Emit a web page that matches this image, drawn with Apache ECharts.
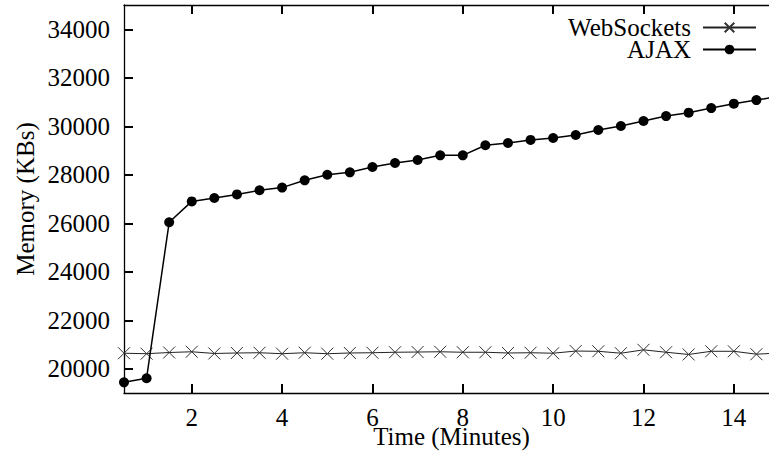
<!DOCTYPE html>
<html>
<head>
<meta charset="utf-8">
<script src="https://cdn.jsdelivr.net/npm/echarts@6/dist/echarts.min.js"></script>
<style>
html,body{margin:0;padding:0;background:#fff;}
#chart{width:769px;height:463px;}
</style>
</head>
<body>
<div id="chart"></div>
<script>
const times = [0.5, 1, 1.5, 2, 2.5, 3, 3.5, 4, 4.5, 5, 5.5, 6, 6.5, 7, 7.5, 8, 8.5, 9, 9.5, 10, 10.5, 11, 11.5, 12, 12.5, 13, 13.5, 14, 14.5, 15];
const webSockets = [20640, 20620, 20670, 20700, 20630, 20650, 20660, 20620, 20660, 20620, 20650, 20660, 20680, 20690, 20700, 20680, 20680, 20650, 20660, 20640, 20730, 20720, 20640, 20780, 20680, 20590, 20720, 20720, 20600, 20650];
const ajax = [19440, 19610, 26040, 26900, 27040, 27190, 27360, 27470, 27770, 28000, 28100, 28320, 28485, 28610, 28800, 28800, 29215, 29310, 29435, 29515, 29640, 29845, 30010, 30215, 30420, 30560, 30750, 30930, 31080, 31230];
const xTicks = [2, 4, 6, 8, 10, 12, 14];
const yTicks = [20000, 22000, 24000, 26000, 28000, 30000, 32000, 34000];
const xRange = [0.5, 15];
const yRange = [19000, 35000];
const xTitle = 'Time (Minutes)';
const yTitle = 'Memory (KBs)';

const FONT = '"Liberation Serif", "DejaVu Serif", serif';
const FS = 25;
const TICK_LEN = 9;
const pairs = (ys) => times.map((t, i) => [t, ys[i]]);

const axisLineStyle = { show: true, lineStyle: { color: '#000', width: 1.3 } };
const crossPath = 'path://M0,0L10,10M10,0L0,10';
const legendText = { fontFamily: FONT, fontSize: FS, color: '#000', lineHeight: 22, padding: [0, 7, 0, 0] };
const minorY = { show: true, splitNumber: 2, length: TICK_LEN, lineStyle: { color: '#000', width: 2 } };

const chart = echarts.init(document.getElementById('chart'), null, { renderer: 'svg' });
chart.setOption({
  animation: false,
  backgroundColor: '#fff',
  textStyle: { fontFamily: FONT },
  grid: { left: 124, top: 5, right: -10, bottom: 70, containLabel: false, outerBoundsMode: 'none' },
  legend: [
    { data: ['WebSockets'], orient: 'vertical', align: 'right', right: 12, top: 15, padding: 0,
      itemWidth: 53, itemHeight: 12, textStyle: legendText },
    { data: ['AJAX'], orient: 'vertical', align: 'right', right: 12, top: 37, padding: 0,
      itemWidth: 53, itemHeight: 12, textStyle: legendText }
  ],
  xAxis: [
    {
      type: 'value', min: xRange[0], max: xRange[1], position: 'bottom',
      name: xTitle, nameLocation: 'middle', nameGap: 31, nameMoveOverlap: false,
      nameTextStyle: { fontFamily: FONT, fontSize: FS, color: '#000' },
      axisLine: axisLineStyle,
      axisTick: { show: false },
      axisLabel: { customValues: xTicks, fontFamily: FONT, fontSize: FS, color: '#000', margin: 12 },
      splitLine: { show: false }
    },
    {
      type: 'value', min: xRange[0], max: xRange[1], position: 'top',
      axisLine: axisLineStyle, axisTick: { show: false }, axisLabel: { show: false },
      splitLine: { show: false }
    }
  ],
  yAxis: [
    {
      type: 'value', min: yRange[0], max: yRange[1], interval: 2000, position: 'left',
      name: yTitle, nameLocation: 'middle', nameGap: 86, nameMoveOverlap: false,
      nameTextStyle: { fontFamily: FONT, fontSize: FS, color: '#000' },
      axisLine: axisLineStyle,
      axisTick: { show: false, inside: true },
      minorTick: minorY,
      axisLabel: { customValues: yTicks, fontFamily: FONT, fontSize: FS, color: '#000', margin: 14,
        formatter: (v) => String(v) },
      splitLine: { show: false }, minorSplitLine: { show: false }
    },
    {
      type: 'value', min: yRange[0], max: yRange[1], interval: 2000, position: 'right',
      axisLine: axisLineStyle, axisTick: { show: false, inside: true }, minorTick: minorY,
      axisLabel: { show: false }, splitLine: { show: false }
    }
  ],
  series: [
    {
      name: 'WebSockets', type: 'line', data: pairs(webSockets),
      symbol: crossPath, symbolSize: 12, showAllSymbol: true, clip: true,
      lineStyle: { color: '#222', width: 1 },
      itemStyle: { color: '#333', borderColor: '#333', borderWidth: 1 },
      emphasis: { disabled: true }, z: 2
    },
    {
      name: 'AJAX', type: 'line', data: pairs(ajax),
      symbol: 'circle', symbolSize: 10, showAllSymbol: true, clip: true,
      lineStyle: { color: '#000', width: 1.5 },
      itemStyle: { color: '#000', borderWidth: 0 },
      emphasis: { disabled: true }, z: 3
    }
  ]
});

const finder = { xAxisIndex: 0, yAxisIndex: 0 };
const p0 = chart.convertFromPixel(finder, [0, 0]);
const p1 = chart.convertFromPixel(finder, [0, TICK_LEN]);
const dy = Math.abs(p0[1] - p1[1]);
const xTickSegs = [];
xTicks.forEach((v) => {
  xTickSegs.push([{ coord: [v, yRange[0]] }, { coord: [v, yRange[0] + dy] }]);
  xTickSegs.push([{ coord: [v, yRange[1]] }, { coord: [v, yRange[1] - dy] }]);
});
chart.setOption({
  series: [{}, {
    markLine: {
      silent: true, symbol: ['none', 'none'], animation: false,
      label: { show: false }, emphasis: { disabled: true },
      lineStyle: { color: '#000', width: 2, type: 'solid' },
      data: xTickSegs
    }
  }]
});
</script>
</body>
</html>
